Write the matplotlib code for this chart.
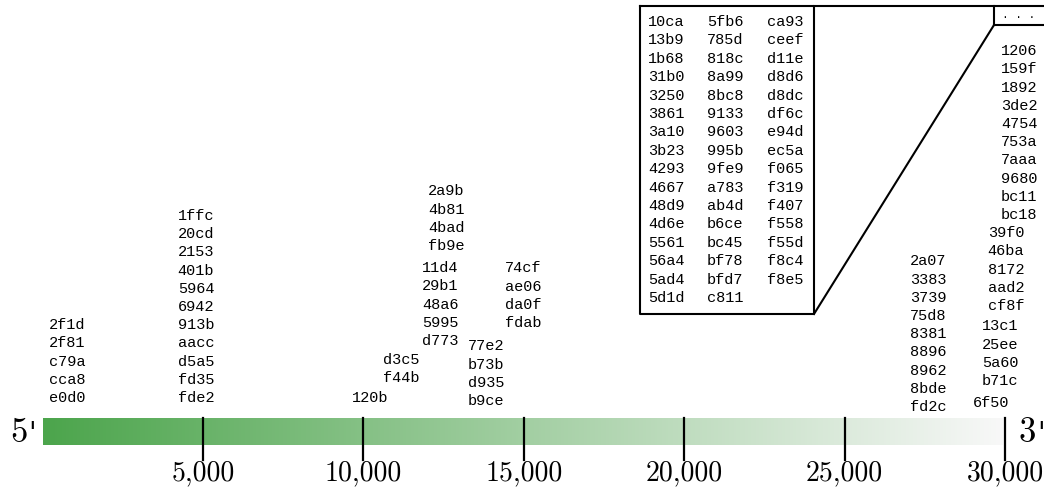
import numpy as np
import matplotlib.pyplot as plt
from matplotlib.colors import LinearSegmentedColormap

# genome length and tick positions
genome_len = 29900
ticks = [5000, 10000, 15000, 20000, 25000, 30000]

# label clusters: position along the genome and ids stacked there
site_pos = [760, 4780, 10200, 11170, 12390, 12575, 13820, 14975,
            27600, 29560, 29850, 30030, 30440]
site_ids = [
    ['2f1d', '2f81', 'c79a', 'cca8', 'e0d0'],
    ['1ffc', '20cd', '2153', '401b', '5964', '6942', '913b', 'aacc', 'd5a5', 'fd35', 'fde2'],
    ['120b'],
    ['d3c5', 'f44b'],
    ['11d4', '29b1', '48a6', '5995', 'd773'],
    ['2a9b', '4b81', '4bad', 'fb9e'],
    ['77e2', 'b73b', 'd935', 'b9ce'],
    ['74cf', 'ae06', 'da0f', 'fdab'],
    ['2a07', '3383', '3739', '75d8', '8381', '8896', '8962', '8bde', 'fd2c'],
    ['6f50'],
    ['13c1', '25ee', '5a60', 'b71c'],
    ['39f0', '46ba', '8172', 'aad2', 'cf8f'],
    ['1206', '159f', '1892', '3de2', '4754', '753a', '7aaa', '9680', 'bc11', 'bc18'],
]
# ids that don't fit above the last cluster
overflow_ids = ['10ca', '13b9', '1b68', '31b0', '3250', '3861', '3a10', '3b23',
                '4293', '4667', '48d9', '4d6e', '5561', '56a4', '5ad4', '5d1d',
                '5fb6', '785d', '818c', '8a99', '8bc8', '9133', '9603', '995b',
                '9fe9', 'a783', 'ab4d', 'b6ce', 'bc45', 'bf78', 'bfd7', 'c811',
                'ca93', 'ceef', 'd11e', 'd8d6', 'd8dc', 'df6c', 'e94d', 'ec5a',
                'f065', 'f319', 'f407', 'f558', 'f55d', 'f8c4', 'f8e5']

# vertical placement of each stack (y of the lowest line, pixels from top)
stack_bottom = [398, 398, 398, 378, 341, 246, 401, 323, 407, 403, 381, 306, 215]
line_h = 18.2

W, H = 1044, 497
px_per_bp = 0.03208
x0 = 42.6

fig = plt.figure(figsize=(W / 100, H / 100), dpi=100)
ax = fig.add_axes([0, 0, 1, 1])
ax.set_xlim(-x0 / px_per_bp, (W - x0) / px_per_bp)
ax.set_ylim(H, 0)
ax.axis('off')

def px(x):
    return (x - x0) / px_per_bp

# gradient bar
cmap = LinearSegmentedColormap.from_list('g', ['#4ca54c', '#f8f8f8'])
grad = np.linspace(0, 1, 512)[None, :]
ax.imshow(grad, cmap=cmap, aspect='auto', extent=[0, genome_len, 445, 418],
          interpolation='bilinear', zorder=1)

for t in ticks:
    ax.plot([t, t], [418, 460], color='black', lw=1.6, zorder=2)
    ax.text(t, 480, f'{t:,}', family='cmr10', fontsize=20,
            ha='center', va='baseline')

# strand ends: digit in cmr10, straight apostrophe from a serif face
for xd, xq, d in [(27.5, 28.5, '5'), (1036, 1037, '3')]:
    ax.text(px(xd), 442, d, family='cmr10', fontsize=25, ha='right', va='baseline')
    ax.text(px(xq), 442, "'", family='DejaVu Serif', fontsize=20,
            ha='left', va='baseline')

mono = dict(family='Liberation Mono', fontsize=11, ha='center', va='center')
for pos, ids, yb in zip(site_pos, site_ids, stack_bottom):
    for i, s in enumerate(reversed(ids)):
        ax.text(pos, yb - i * line_h, s, **mono)

# overflow inset and its callout
box_l, box_r, box_t, box_b = px(640), px(814), 6, 314
dot_l, dot_r, dot_b = px(994), px(1046), 25
ax.plot([box_l, box_r, box_r, box_l, box_l], [box_t, box_t, box_b, box_b, box_t],
        color='black', lw=1.5)
ax.plot([box_r, dot_r], [box_t, box_t], color='black', lw=1.5)
ax.plot([dot_l, dot_r], [dot_b, dot_b], color='black', lw=1.5)
ax.plot([dot_l, dot_l], [box_t, dot_b], color='black', lw=1.5)
ax.plot([box_r, dot_l], [box_b, dot_b], color='black', lw=1.5)
ax.text(px(1019), 15, '. . .', family='Liberation Mono', fontsize=8,
        ha='center', va='center')

rows = 16
col_x = [px(666), px(725), px(785)]
for k, s in enumerate(overflow_ids):
    ax.text(col_x[k // rows], 22 + (k % rows) * 18.4, s, **mono)

fig.savefig('out.png', dpi=100)
